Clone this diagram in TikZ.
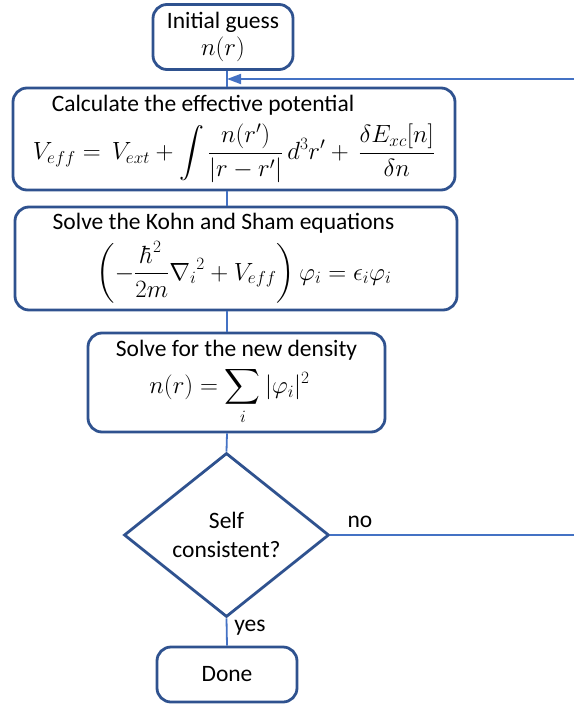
\documentclass[tikz,border=0pt]{standalone}
\usepackage{amsmath}
\usepackage{fontspec}
\setmainfont{Carlito}
\usetikzlibrary{arrows.meta,shapes.geometric,positioning}
\definecolor{boxblue}{HTML}{2F528F}
\definecolor{lineblue}{HTML}{4472C4}
\tikzset{
  stepbox/.style={draw=boxblue,line width=2.8pt,rounded corners=14pt,fill=white,
    align=center,inner sep=0pt,font=\fontsize{23.5}{27}\selectfont},
  decision/.style={diamond,draw=boxblue,line width=2.8pt,fill=white,inner sep=0pt,
    align=center,font=\fontsize{23.5}{29}\selectfont},
  flow/.style={draw=lineblue,line width=1.8pt},
  tag/.style={inner sep=0pt,font=\fontsize{23.5}{27}\selectfont},
}

\begin{document}
\begin{tikzpicture}[x=1pt,y=-1pt]
  \useasboundingbox (0,0) rectangle (574,704);
  % boxes
  \node[stepbox,minimum width=140pt,minimum height=65pt] (init) at (223,37)
    {Initial guess\\$n(r)$};
  \node[stepbox,minimum width=442pt,minimum height=102pt] (potential) at (234,139)
    {Calculate the effective potential\hspace*{62pt}\\[8pt]
     $\displaystyle V_{eff}=\,V_{ext}+\int\frac{n(r')}{|r-r'|}\,d^3r'+\,\frac{\delta E_{xc}[n]}{\delta n}$};
  \node[stepbox,minimum width=442pt,minimum height=103pt] (kohn) at (236,258.5)
    {Solve the Kohn and Sham equations\hspace*{25pt}\\[7pt]
     \hspace*{16pt}$\displaystyle\left(-\frac{\hbar^2}{2m}{\nabla_i}^2+V_{eff}\right)\varphi_i=\epsilon_i\varphi_i$};
  \node[stepbox,minimum width=297pt,minimum height=99pt] (density) at (236.5,382.5)
    {Solve for the new density\\[6pt]
     \hspace*{-14pt}$\displaystyle n(r)=\sum_i|\varphi_i|^2$};
  \node[decision,minimum width=205pt,minimum height=164pt] (check) at (226.5,535)
    {Self\\consistent?};
  \node[stepbox,minimum width=140pt,minimum height=55pt] (done) at (227,674.5) {Done};
  % connectors
  \coordinate (spine) at (227,0);
  \coordinate (loopin) at (574,79);
  \draw[flow] (init.south -| spine) -- (potential.north -| spine);
  \draw[flow] (potential.south -| spine) -- (kohn.north -| spine);
  \draw[flow] (kohn.south -| spine) -- (density.north -| spine);
  \draw[flow] (density.south -| spine) -- (check.north);
  \draw[flow] (check.south) -- (done.north);
  \draw[flow] (check.east) -- (check.east -| loopin);
  \draw[flow,-{Triangle[length=14pt,width=10pt]}] (loopin) -- (loopin -| spine);
  % labels
  \node[tag] (no) at (360,522) {no};
  \node[tag] (yes) at (250,628) {yes};
\end{tikzpicture}
\end{document}
